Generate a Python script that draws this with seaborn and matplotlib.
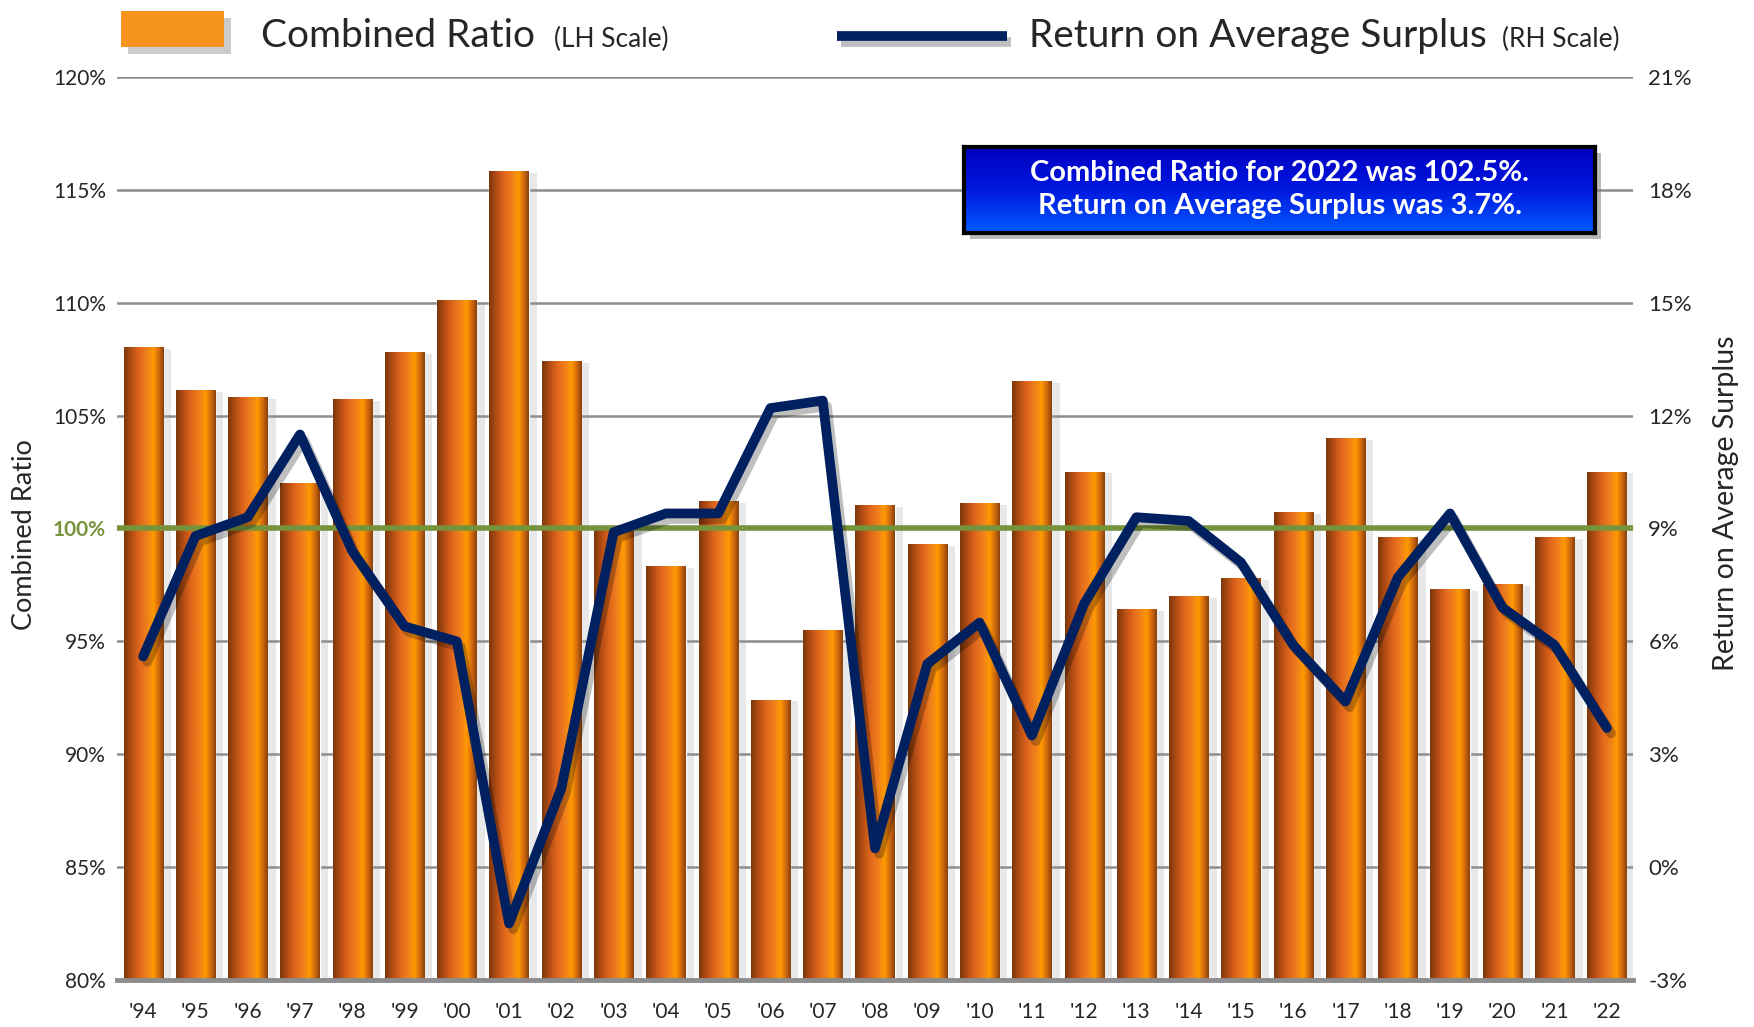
# Combined ratio vs return on average surplus, 1994-2022
import numpy as np
import pandas as pd
import matplotlib
matplotlib.use('Agg')
import matplotlib.pyplot as plt
import matplotlib.patheffects as pe
from matplotlib.colors import LinearSegmentedColormap
from matplotlib.patches import Rectangle
from matplotlib.lines import Line2D
import seaborn as sns

# Data
years = ["'94", "'95", "'96", "'97", "'98", "'99", "'00", "'01", "'02", "'03",
         "'04", "'05", "'06", "'07", "'08", "'09", "'10", "'11", "'12", "'13",
         "'14", "'15", "'16", "'17", "'18", "'19", "'20", "'21", "'22"]
combined_ratio = [108.0, 106.1, 105.8, 102.0, 105.7, 107.8, 110.1, 115.8, 107.4, 100.0,
                  98.3, 101.2, 92.4, 95.5, 101.0, 99.3, 101.1, 106.5, 102.5, 96.4,
                  97.0, 97.8, 100.7, 104.0, 99.6, 97.3, 97.5, 99.6, 102.5]
return_on_surplus = [5.6, 8.8, 9.3, 11.5, 8.4, 6.4, 6.0, -1.5, 2.1, 8.9,
                     9.4, 9.4, 12.2, 12.4, 0.5, 5.4, 6.5, 3.5, 7.0, 9.3,
                     9.2, 8.1, 5.9, 4.4, 7.7, 9.4, 6.9, 5.9, 3.7]
left_ticks = [80, 85, 90, 95, 100, 105, 110, 115, 120]
right_ticks = [-3, 0, 3, 6, 9, 12, 15, 18, 21]

df = pd.DataFrame({'year': years, 'ratio': combined_ratio, 'ros': return_on_surplus})

navy = '#002060'
green = '#77933C'

sns.set_style('white')
plt.rcParams['font.family'] = ['Lato', 'DejaVu Sans']

fig = plt.figure(figsize=(17.54, 10.27), dpi=100)
ax = fig.add_axes([117 / 1754, 1 - 980 / 1027, 1516 / 1754, 903 / 1027])

# Bars
sns.barplot(data=df, x='year', y='ratio', ax=ax, color='#F28C1A', saturation=1,
            width=0.75, zorder=2)

bar_cmap = LinearSegmentedColormap.from_list('bar', [
    (0.0, '#7A370C'), (0.18, '#B24C14'), (0.38, '#E0661C'), (0.58, '#F0801C'),
    (0.74, '#FF9A00'), (0.88, '#D0680F'), (1.0, '#86400E')])
grad = np.linspace(0, 1, 256).reshape(1, -1)
for p in ax.patches:
    p.set_path_effects([pe.SimplePatchShadow(offset=(6, -1), shadow_rgbFace='0.6', alpha=0.22),
                        pe.Normal()])
    x0 = p.get_x()
    ax.imshow(grad, extent=[x0, x0 + p.get_width(), 80, p.get_height()], cmap=bar_cmap,
              aspect='auto', zorder=2.5)
ax.set_ylim(80, 120)
ax.set_xlim(-0.5, len(years) - 0.5)

# Grid and 100% line
ax.set_axisbelow(True)
ax.yaxis.grid(True, color='#8C8C8C', linewidth=1.8)
ax.axhline(100, color=green, linewidth=4, zorder=3)

ax.set_yticks(left_ticks)
ax.set_yticklabels([f'{v}%' for v in left_ticks])
for lab in ax.get_yticklabels():
    if lab.get_text() == '100%':
        lab.set_color(green)
        lab.set_fontweight('bold')
ax.tick_params(axis='y', length=0, pad=8, labelsize=15)
ax.tick_params(axis='x', length=0, pad=16, labelsize=15)
ax.set_xlabel('')
ax.set_ylabel('')
for s in ['left', 'right', 'top']:
    ax.spines[s].set_visible(False)
ax.spines['bottom'].set_color('#8C8C8C')
ax.spines['bottom'].set_linewidth(3.5)

# Line on the right scale
ax2 = ax.twinx()
sns.lineplot(data=df, x='year', y='ros', ax=ax2, sort=False, color=navy, linewidth=7,
             path_effects=[pe.SimpleLineShadow(offset=(3, -4), shadow_color='k', alpha=0.25),
                           pe.Normal()])
ax2.set_ylim(-3, 21)
ax2.set_yticks(right_ticks)
ax2.set_yticklabels([f'{v}%' for v in right_ticks])
ax2.tick_params(axis='y', length=0, pad=11, labelsize=16)
ax2.set_xlabel('')
ax2.set_ylabel('')
for s in ['left', 'right', 'top', 'bottom']:
    ax2.spines[s].set_visible(False)
ax.set_xlim(-0.5, len(years) - 0.5)

# Axis titles
fig.text(25 / 1754, 1 - 535 / 1027, 'Combined Ratio', rotation=90, ha='center', va='center',
         fontsize=19.5)
fig.text(1726 / 1754, 1 - 503 / 1027, 'Return on Average Surplus', rotation=90, ha='center',
         va='center', fontsize=20.5)

# Custom legend on top
fig.add_artist(Rectangle((121 / 1754, 1 - 47 / 1027), 103 / 1754, 36 / 1027,
                         transform=fig.transFigure, facecolor='#F7941D', edgecolor='none',
                         zorder=5,
                         path_effects=[pe.SimplePatchShadow(offset=(5, -5), shadow_rgbFace='0.5',
                                                            alpha=0.4), pe.Normal()]))
fig.text(261 / 1754, 1 - 36 / 1027, 'Combined Ratio', fontsize=28, va='center', ha='left')
fig.text(554 / 1754, 1 - 39 / 1027, '(LH Scale)', fontsize=19, va='center', ha='left')
fig.add_artist(Line2D([837 / 1754, 1007 / 1754], [1 - 36 / 1027] * 2, transform=fig.transFigure,
                      color=navy, linewidth=7, solid_capstyle='butt', zorder=5,
                      path_effects=[pe.SimpleLineShadow(offset=(3, -4), alpha=0.25), pe.Normal()]))
fig.text(1029 / 1754, 1 - 36 / 1027, 'Return on Average Surplus', fontsize=28, va='center',
         ha='left')
fig.text(1502 / 1754, 1 - 39 / 1027, '(RH Scale)', fontsize=19, va='center', ha='left')

# Annotation box
bx, by, bw, bh = 964 / 1754, 1 - 233 / 1027, 631 / 1754, 86 / 1027
fig.add_artist(Rectangle((bx + 6 / 1754, by - 6 / 1027), bw, bh, transform=fig.transFigure,
                         facecolor='0.45', alpha=0.5, edgecolor='none', zorder=4))
box_ax = fig.add_axes([bx, by, bw, bh], zorder=5)
box_cmap = LinearSegmentedColormap.from_list('box', ['#0000C0', '#0018E0', '#005CFF'])
box_ax.imshow(np.linspace(0, 1, 128).reshape(-1, 1), cmap=box_cmap, aspect='auto',
              extent=[0, 1, 0, 1])
box_ax.set_xticks([])
box_ax.set_yticks([])
for s in box_ax.spines.values():
    s.set_color('black')
    s.set_linewidth(3)
box_ax.text(0.5, 0.70, 'Combined Ratio for 2022 was 102.5%.', color='white', fontsize=21,
            fontweight='bold', ha='center', va='center', transform=box_ax.transAxes)
box_ax.text(0.5, 0.31, 'Return on Average Surplus was 3.7%.', color='white', fontsize=21,
            fontweight='bold', ha='center', va='center', transform=box_ax.transAxes)

fig.savefig('out.png', dpi=100)
